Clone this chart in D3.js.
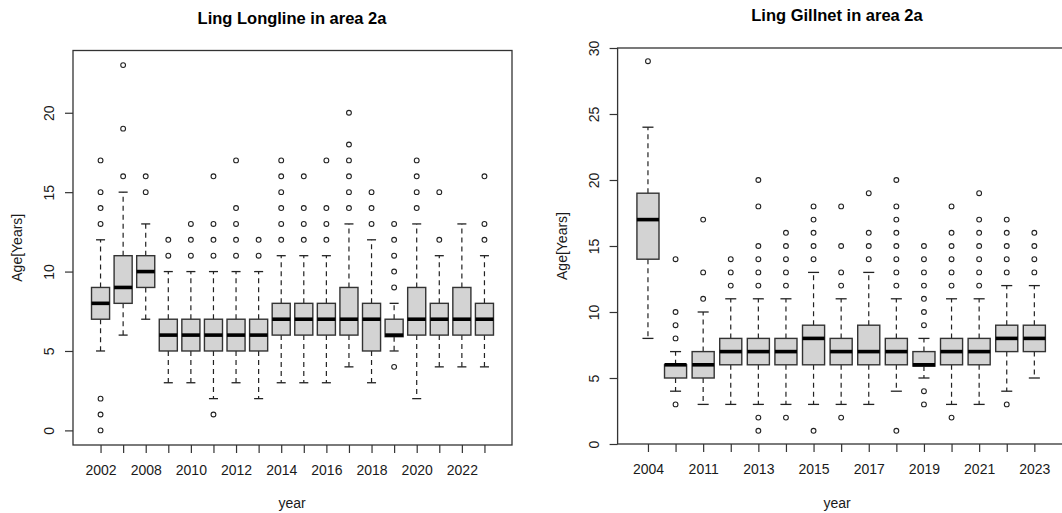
<!DOCTYPE html>
<html>
<head>
<meta charset="utf-8">
<script src="https://cdn.jsdelivr.net/npm/d3@7"></script>
<style>
  html, body { margin: 0; padding: 0; background: #fff; }
  svg { display: block; }
  text { font-family: "Liberation Sans", Arial, Helvetica, sans-serif; fill: #1a1a1a; }
</style>
</head>
<body>
<svg id="chart" width="1062" height="513"></svg>
<script>
// ---------- Ling Longline in area 2a ----------
const longYears = ["2002","2007","2008","2009","2010","2011","2012","2013","2014","2015","2016","2017","2018","2019","2020","2021","2022","2023"];
const longLow   = [5, 6, 7, 3, 3, 2, 3, 2, 3, 3, 3, 4, 3, 5, 2, 4, 4, 4];
const longQ1    = [7, 8, 9, 5, 5, 5, 5, 5, 6, 6, 6, 6, 5, 5.9, 6, 6, 6, 6];
const longMed   = [8, 9, 10, 6, 6, 6, 6, 6, 7, 7, 7, 7, 7, 6, 7, 7, 7, 7];
const longQ3    = [9, 11, 11, 7, 7, 7, 7, 7, 8, 8, 8, 9, 8, 7, 9, 8, 9, 8];
const longHigh  = [12, 15, 13, 10, 10, 10, 10, 10, 11, 11, 11, 13, 12, 8, 13, 11, 13, 11];
const longOut   = [
  [0,1,2,13,14,15,17], [16,19,23], [15,16], [11,12], [11,12,13], [1,11,12,13,16],
  [11,12,13,14,17], [11,12], [12,13,14,15,16,17], [12,13,14,16], [12,13,14,17],
  [14,15,16,17,18,20], [13,14,15], [4,9,10,11,12,13], [14,15,16,17], [12,15], [], [12,13,16]
];
const longYTicks = [0, 5, 10, 15, 20];

// ---------- Ling Gillnet in area 2a ----------
const gillYears = ["2004","2010","2011","2012","2013","2014","2015","2016","2017","2018","2019","2020","2021","2022","2023"];
const gillLow   = [8, 4, 3, 3, 3, 3, 3, 3, 3, 4, 5, 3, 3, 4, 5];
const gillQ1    = [14, 5, 5, 6, 6, 6, 6, 6, 6, 6, 5.9, 6, 6, 7, 7];
const gillMed   = [17, 6, 6, 7, 7, 7, 8, 7, 7, 7, 6, 7, 7, 8, 8];
const gillQ3    = [19, 6, 7, 8, 8, 8, 9, 8, 9, 8, 7, 8, 8, 9, 9];
const gillHigh  = [24, 7, 10, 11, 11, 11, 13, 11, 13, 11, 8, 11, 11, 12, 12];
const gillOut   = [
  [29], [3,8,9,10,14], [11,13,17], [12,13,14], [1,2,12,13,14,15,18,20],
  [2,12,13,14,15,16], [1,14,15,16,17,18], [2,12,13,15,18], [14,15,16,19],
  [1,12,13,14,15,16,17,18,20], [3,4,9,10,11,12,13,14,15], [2,12,13,14,15,16,18],
  [12,13,14,15,16,17,19], [3,13,14,15,16,17], [13,14,15,16]
];
const gillYTicks = [0, 5, 10, 15, 20, 25, 30];

const svg = d3.select("#chart");

function drawPanel(opt) {
  const n = opt.years.length;
  const ext = 0.04 * n;
  const x = d3.scaleLinear().domain([0.5 - ext, n + 0.5 + ext]).range([opt.x0, opt.x1]);
  const y = d3.scaleLinear().domain(opt.yDomain).range([opt.yBot, opt.yTop]);
  const g = svg.append("g");
  const step = x(1) - x(0);
  const bw = 0.8 * step;
  const sw = 0.5 * bw;

  const rows = opt.years.map((yr, i) => ({
    yr, pos: i + 1, lo: opt.low[i], q1: opt.q1[i], med: opt.med[i],
    q3: opt.q3[i], hi: opt.high[i], out: opt.out[i]
  }));

  const bx = g.selectAll("g.box").data(rows).enter().append("g").attr("class", "box");
  // whiskers (dashed)
  bx.append("line")
    .attr("x1", d => x(d.pos)).attr("x2", d => x(d.pos))
    .attr("y1", d => y(d.q3)).attr("y2", d => y(d.hi))
    .attr("stroke", "#222").attr("stroke-width", 1.2).attr("stroke-dasharray", "5,4");
  bx.append("line")
    .attr("x1", d => x(d.pos)).attr("x2", d => x(d.pos))
    .attr("y1", d => y(d.q1)).attr("y2", d => y(d.lo))
    .attr("stroke", "#222").attr("stroke-width", 1.2).attr("stroke-dasharray", "5,4");
  // staples
  bx.append("line")
    .attr("x1", d => x(d.pos) - sw / 2).attr("x2", d => x(d.pos) + sw / 2)
    .attr("y1", d => y(d.hi)).attr("y2", d => y(d.hi))
    .attr("stroke", "#222").attr("stroke-width", 1.3);
  bx.append("line")
    .attr("x1", d => x(d.pos) - sw / 2).attr("x2", d => x(d.pos) + sw / 2)
    .attr("y1", d => y(d.lo)).attr("y2", d => y(d.lo))
    .attr("stroke", "#222").attr("stroke-width", 1.3);
  // box
  bx.append("rect")
    .attr("x", d => x(d.pos) - bw / 2).attr("width", bw)
    .attr("y", d => y(d.q3)).attr("height", d => y(d.q1) - y(d.q3))
    .attr("fill", "#d3d3d3").attr("stroke", "#333").attr("stroke-width", 1.4);
  // median
  bx.append("line")
    .attr("x1", d => x(d.pos) - bw / 2).attr("x2", d => x(d.pos) + bw / 2)
    .attr("y1", d => y(d.med)).attr("y2", d => y(d.med))
    .attr("stroke", "#000").attr("stroke-width", 3.6);
  // outliers
  bx.selectAll("circle").data(d => d.out.map(v => ({ pos: d.pos, v })))
    .enter().append("circle")
    .attr("cx", d => x(d.pos)).attr("cy", d => y(d.v)).attr("r", 2.4)
    .attr("fill", "none").attr("stroke", "#222").attr("stroke-width", 1.1);

  // frame
  g.append("rect")
    .attr("x", opt.x0).attr("y", opt.yTop)
    .attr("width", opt.x1 - opt.x0).attr("height", opt.yBot - opt.yTop)
    .attr("fill", "none").attr("stroke", "#333").attr("stroke-width", 1.3);

  // y axis
  const yAxis = d3.axisLeft(y).tickValues(opt.yTicks).tickSize(8).tickPadding(0).tickFormat(d3.format("d"));
  const ya = g.append("g").attr("transform", `translate(${opt.x0},0)`).call(yAxis);
  ya.select(".domain").remove();
  ya.selectAll(".tick line").attr("stroke", "#333").attr("stroke-width", 1.2);
  ya.selectAll(".tick text")
    .attr("x", 0).attr("y", 0)
    .attr("transform", "translate(-24,0) rotate(-90)")
    .attr("text-anchor", "middle").attr("dy", "0.35em")
    .style("font-size", "14px").style("fill", "#1a1a1a");

  // x axis
  const xAxis = d3.axisBottom(x).tickValues(rows.map(d => d.pos)).tickSize(8).tickPadding(0)
    .tickFormat((d, i) => (i % 2 === 0 ? opt.years[i] : ""));
  const xa = g.append("g").attr("transform", `translate(0,${opt.yBot})`).call(xAxis);
  xa.select(".domain").remove();
  xa.selectAll(".tick line").attr("stroke", "#333").attr("stroke-width", 1.2);
  xa.selectAll(".tick text").attr("y", 25).attr("dy", "0.35em")
    .style("font-size", "14px").style("fill", "#1a1a1a");

  // titles
  svg.append("text").attr("x", opt.titleX).attr("y", opt.titleY)
    .attr("text-anchor", "middle").attr("dy", "0.35em")
    .style("font-size", "16.5px").style("font-weight", "bold").style("fill", "#000")
    .text(opt.title);
  svg.append("text").attr("x", opt.titleX).attr("y", 503)
    .attr("text-anchor", "middle").attr("dy", "0.35em")
    .style("font-size", "14px").text("year");
  svg.append("text")
    .attr("transform", `translate(${opt.ylabX},${(opt.yTop + opt.yBot) / 2}) rotate(-90)`)
    .attr("text-anchor", "middle").attr("dy", "0.35em")
    .style("font-size", "14px").text("Age[Years]");
}

drawPanel({
  years: longYears, low: longLow, q1: longQ1, med: longMed, q3: longQ3, high: longHigh, out: longOut,
  yTicks: longYTicks, yDomain: [-0.92, 23.92],
  x0: 73, x1: 512, yTop: 50.5, yBot: 445,
  title: "Ling Longline in area 2a", titleX: 292, titleY: 18, ylabX: 17
});

drawPanel({
  years: gillYears, low: gillLow, q1: gillQ1, med: gillMed, q3: gillQ3, high: gillHigh, out: gillOut,
  yTicks: gillYTicks, yDomain: [0, 30],
  x0: 617.6, x1: 1064.7, yTop: 48, yBot: 444,
  title: "Ling Gillnet in area 2a", titleX: 837, titleY: 15, ylabX: 562
});
</script>
</body>
</html>
